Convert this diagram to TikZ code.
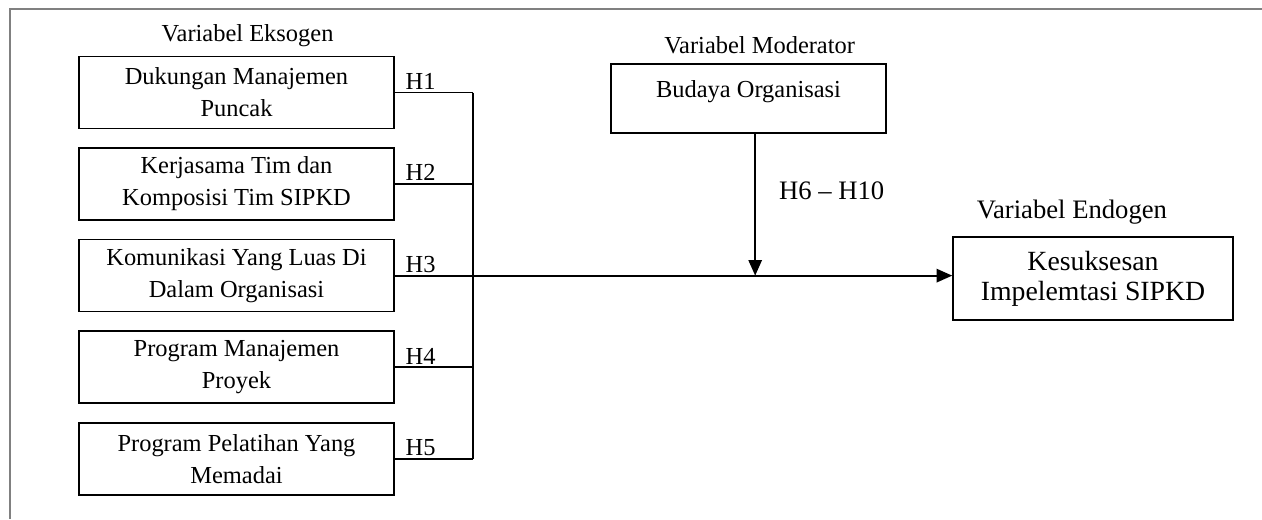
\documentclass[tikz,border=0pt]{standalone}
\usepackage{fontspec}
\setmainfont{Liberation Serif}
\usetikzlibrary{arrows.meta,positioning}
\definecolor{bingkai}{RGB}{128,128,128}

\begin{document}
\begin{tikzpicture}[x=0.45pt, y=-0.45pt, node distance=8.1pt, font=\fontsize{11}{14.4}\selectfont]

\tikzstyle{block} = [rectangle, draw, line width=0.7pt, minimum width=141.75pt, minimum height=32.4pt, align=center, inner sep=1pt];
\tikzstyle{judul} = [inner sep=0pt];
\tikzstyle{garis} = [line width=0.8pt];

\useasboundingbox (0,0) rectangle (1262,519);
\draw[bingkai, line width=1pt] (1262,9) -- (10,9) -- (10,519);

% Variabel Eksogen
\node (dukungan) [block] at (236.5,92.5) {Dukungan Manajemen\\Puncak};
\node (kerjasama) [block, below=of dukungan] {Kerjasama Tim dan\\Komposisi Tim SIPKD};
\node (komunikasi) [block, below=of kerjasama] {Komunikasi Yang Luas Di\\Dalam Organisasi};
\node (proyek) [block, below=of komunikasi] {Program Manajemen\\Proyek};
\node (pelatihan) [block, below=of proyek] {Program Pelatihan Yang\\Memadai};
\node (eksogen) [judul, above=4pt of dukungan, xshift=5pt] {Variabel Eksogen};

% Variabel Moderator
\node (budaya) [block, minimum width=123.75pt, minimum height=31pt] at (748.5,98.5) {Budaya Organisasi\\[-6pt] \mbox{}};
\node (moderator) [judul, above=4pt of budaya, xshift=5pt] {Variabel Moderator};

% Variabel Endogen
\node (sukses) [block, minimum width=126pt, minimum height=37.4pt, font=\fontsize{12.5}{13.5}\selectfont] at (1093,278.5) {Kesuksesan\\Impelemtasi SIPKD};
\node (endogen) [judul, above=5pt of sukses, xshift=-9.5pt, font=\fontsize{12}{14}\selectfont] {Variabel Endogen};

% Koneksi
\coordinate (simpul) at (473,0);
\draw[garis] (dukungan.east) -- node[above, pos=0.33, inner sep=1pt] {H1} (dukungan.east -| simpul);
\draw[garis] (kerjasama.east) -- node[above, pos=0.33, inner sep=1pt] {H2} (kerjasama.east -| simpul);
\draw[garis] (komunikasi.east) -- node[above, pos=0.33, inner sep=1pt] {H3} (komunikasi.east -| simpul);
\draw[garis] (proyek.east) -- node[above, pos=0.33, inner sep=1pt] {H4} (proyek.east -| simpul);
\draw[garis] (pelatihan.east) -- node[above, pos=0.33, inner sep=1pt] {H5} (pelatihan.east -| simpul);
\draw[garis] (dukungan.east -| simpul) -- (pelatihan.east -| simpul);
\draw[garis, -{Triangle[length=7pt, width=6pt]}] (komunikasi.east -| simpul) -- (komunikasi.east -| sukses.west);
\draw[garis, -{Triangle[length=7pt, width=6pt]}] ([xshift=3pt]budaya.south) -- node[right=7pt, pos=0.4, font=\fontsize{12}{14}\selectfont] {H6 -- H10} ([xshift=3pt]budaya.south |- komunikasi.east);

\end{tikzpicture}
\end{document}
